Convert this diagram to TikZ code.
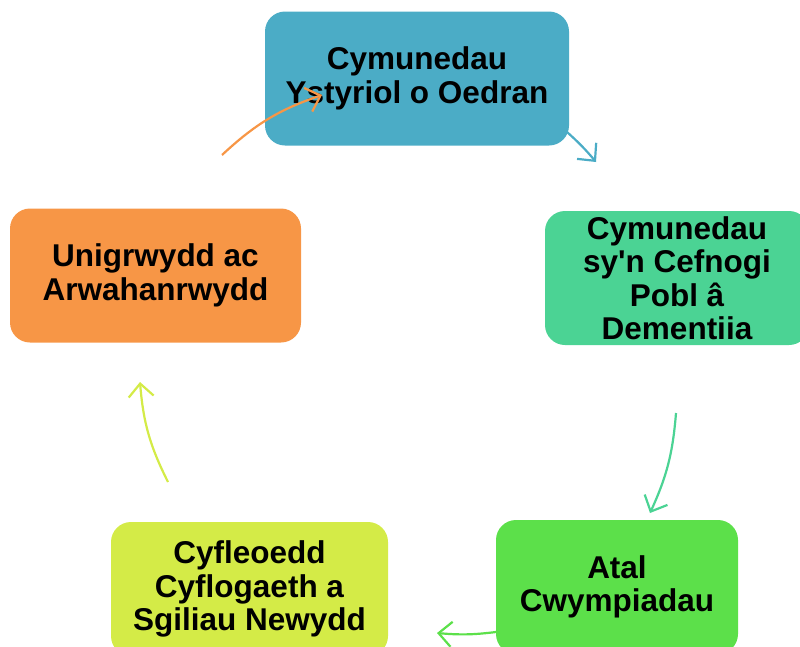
\documentclass[tikz,border=0pt]{standalone}
\usepackage{fontspec}
\setmainfont{Liberation Sans}
\usetikzlibrary{arrows.meta}

\definecolor{ageblue}{HTML}{4BACC6}
\definecolor{dementiagreen}{HTML}{4BD394}
\definecolor{fallgreen}{HTML}{5CE04A}
\definecolor{skillyellow}{HTML}{D4EB47}
\definecolor{lonelyorange}{HTML}{F79646}

\begin{document}
\begin{tikzpicture}[x=1pt,y=1pt]
		
		% Styles for the stages and the arrows between them
		\tikzset{
			stage/.style={rounded corners=20pt,align=center,inner sep=0pt,
				minimum height=134pt,font=\fontsize{31.5}{33.5}\selectfont\bfseries},
			cycarrow/.style={line width=2.2pt,
				-{Straight Barb[length=13pt,width=25pt,line width=2.2pt]}}
		}
		
		\useasboundingbox (0,0) rectangle (800,-646);
		
		% Stages of the cycle
		\node[stage,fill=ageblue,minimum width=304pt] (age) at (417,-78.5)
			{Cymunedau\\Ystyriol o Oedran};
		\node[stage,fill=dementiagreen,minimum width=264pt] (dementia) at (677,-278)
			{Cymunedau\\sy\textquotesingle n Cefnogi\\Pobl â\\Dementiia};
		\node[stage,fill=fallgreen,minimum width=242pt] (falls) at (617,-587)
			{Atal\\Cwympiadau};
		\node[stage,fill=skillyellow,minimum width=277pt] (skills) at (249.5,-589)
			{Cyfleoedd\\Cyflogaeth a\\Sgiliau Newydd};
		\node[stage,fill=lonelyorange,minimum width=291pt] (lonely) at (155.5,-275.5)
			{Unigrwydd ac\\Arwahanrwydd};
		
		% Ends of the arrows round the cycle
		\coordinate (a1) at (567,-132);
		\coordinate (a2) at (596,-162);
		\coordinate (b1) at (676,-413);
		\coordinate (b2) at (650,-513);
		\coordinate (c1) at (496,-632);
		\coordinate (c2) at (437,-633);
		\coordinate (d1) at (168,-482);
		\coordinate (d2) at (140,-382);
		\coordinate (e1) at (222,-155);
		\coordinate (e2) at (322,-95);
		
		% Arrows
		\draw[cycarrow,ageblue] (a1) to[bend left=4] (a2);
		\draw[cycarrow,dementiagreen] (b1) to[bend left=10] (b2);
		\draw[cycarrow,fallgreen] (c1) to[bend left=6] (c2);
		\draw[cycarrow,skillyellow] (d1) to[bend left=11] (d2);
		\draw[cycarrow,lonelyorange] (e1) to[bend left=12] (e2);
	\end{tikzpicture}
\end{document}
